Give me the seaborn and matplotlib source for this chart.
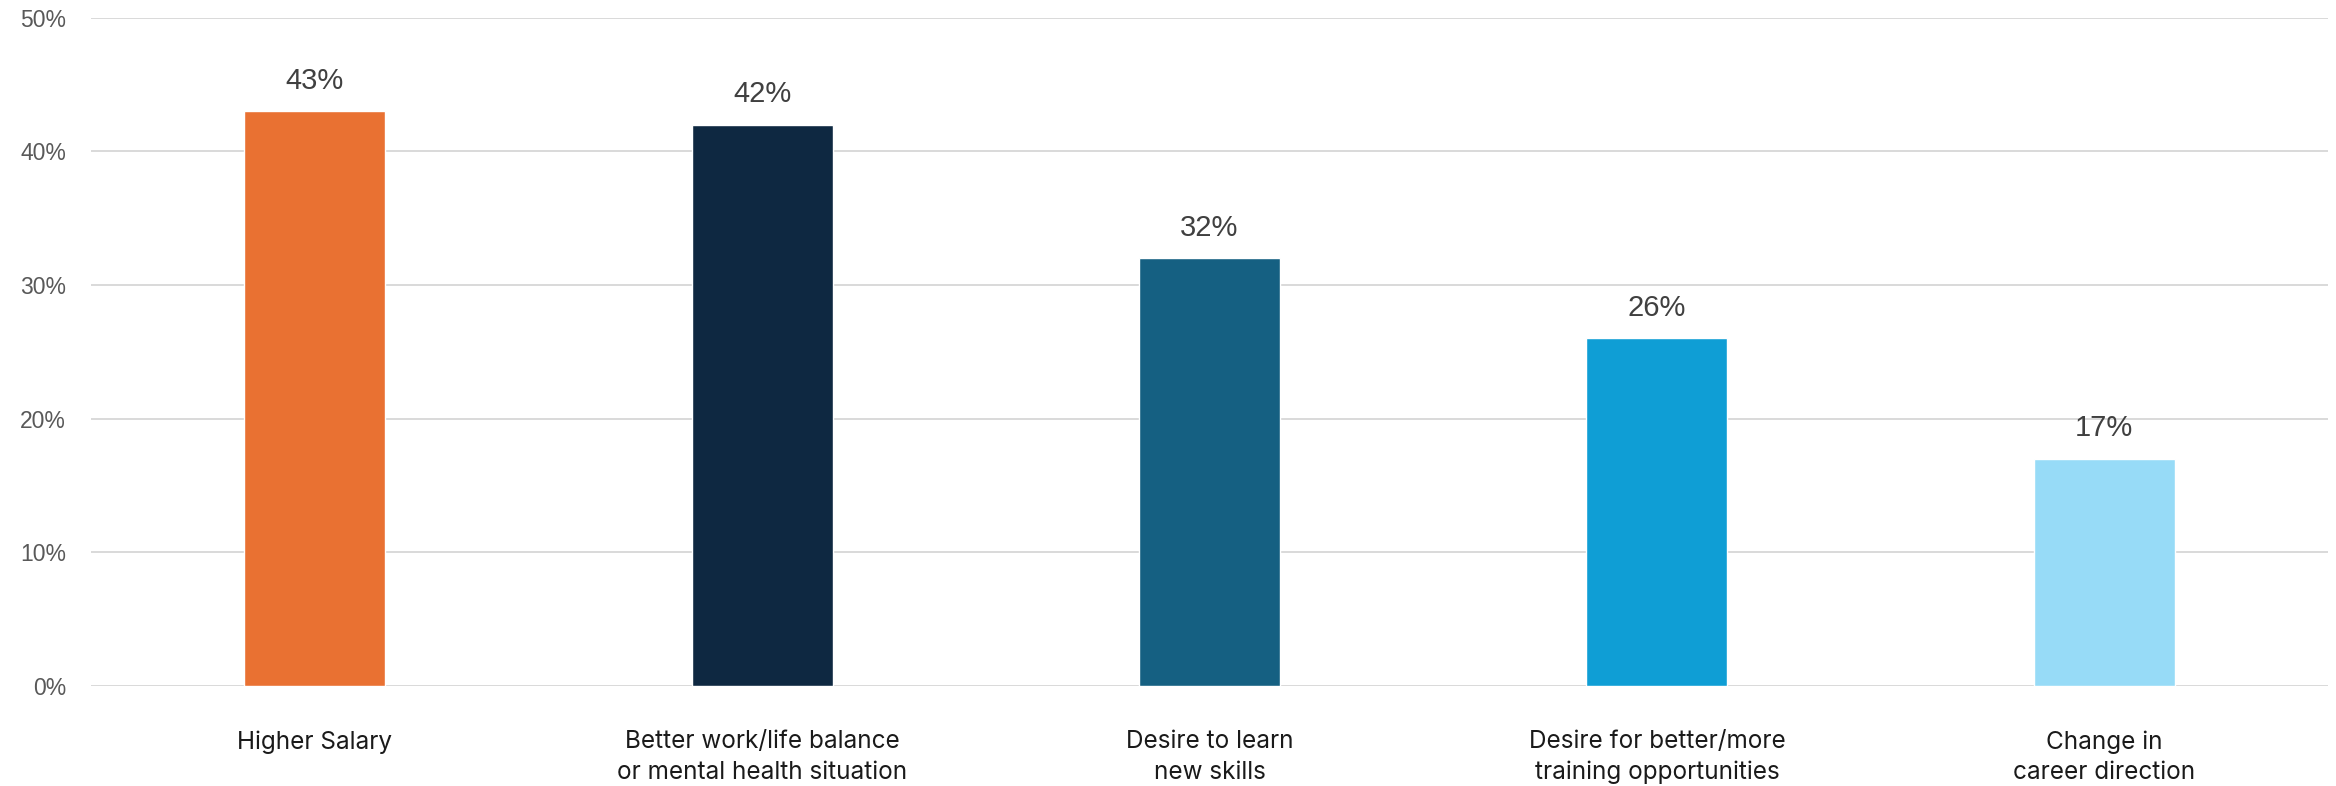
import matplotlib
matplotlib.use("Agg")
import matplotlib.pyplot as plt
import seaborn as sns
import pandas as pd

categories = [
    "Higher Salary",
    "Better work/life balance\nor mental health situation",
    "Desire to learn\nnew skills",
    "Desire for better/more\ntraining opportunities",
    "Change in\ncareer direction",
]
values = [43, 42, 32, 26, 17]
colors = ["#E97132", "#0E2841", "#156082", "#0F9ED5", "#97DBF7"]
yticks = [0, 10, 20, 30, 40, 50]
ytick_labels = ["0%", "10%", "20%", "30%", "40%", "50%"]

sns.set_theme(style="white")
plt.rcParams["font.family"] = ["Liberation Sans", "DejaVu Sans"]

df = pd.DataFrame({"category": categories, "value": values})

fig = plt.figure(figsize=(23.36, 7.86), dpi=100)
ax = fig.add_axes([91/2336, 1 - 685.7/786, (2328-91)/2336, (685.7-17.7)/786])

sns.barplot(data=df, x="category", y="value", hue="category", palette=colors,
            legend=False, width=0.315, saturation=1, ax=ax, zorder=3)

ax.set_ylim(0, 50)
ax.set_xlim(-0.5, 4.5)
ax.set_yticks(yticks)
ax.set_yticklabels(ytick_labels, fontsize=16.5, color="#595959")
ax.yaxis.grid(True, color="#D9D9D9", linewidth=1.4, zorder=0)
ax.set_axisbelow(True)
ax.tick_params(axis="y", length=0, pad=18)
ax.tick_params(axis="x", length=0, pad=32)
for lbl in ax.get_xticklabels():
    lbl.set_fontfamily(["Inter", "DejaVu Sans"])
    lbl.set_fontsize(17.5)
    lbl.set_color("#1A1A1A")
    lbl.set_linespacing(1.42)
    lbl.set_verticalalignment("top")
ax.set_xlabel("")
ax.set_ylabel("")
for s in ax.spines.values():
    s.set_visible(False)

for cont in ax.containers:
    ax.bar_label(cont, fmt="%d%%", padding=12, fontsize=21, color="#404040")

fig.savefig("out.png", dpi=100)
